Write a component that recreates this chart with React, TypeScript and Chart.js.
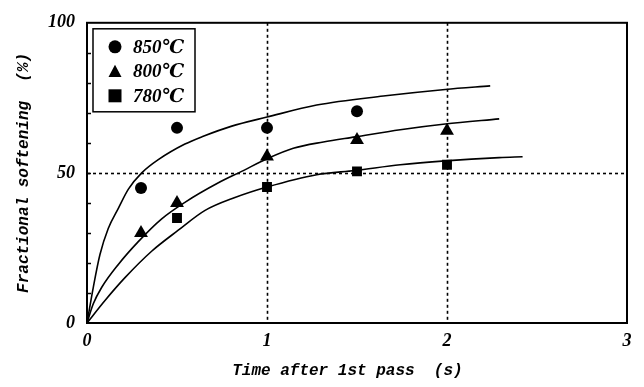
import React, { useEffect, useRef } from 'react';
import { Chart, registerables } from 'chart.js';

Chart.register(...registerables);

// Series labels & markers
const seriesLabels = ['850℃', '800℃', '780℃'];
const pointStyles = ['circle', 'triangle', 'rect'];
const pointRadii = [6, 8, 7];

// Measured points (time s, fractional softening %)
const t850 = [0.3, 0.5, 1.0, 1.5];
const s850 = [45, 65, 65, 70.5];
const t800 = [0.3, 0.5, 1.0, 1.5, 2.0];
const s800 = [30, 40, 55.5, 61, 64];
const t780 = [0.5, 1.0, 1.5, 2.0];
const s780 = [35, 45.3, 50.5, 52.7];

// Fitted curves
const fitT850 = [0, 0.035, 0.072, 0.118, 0.174, 0.23, 0.304, 0.396, 0.544, 0.646, 0.8, 1.0, 1.276, 1.646, 1.99, 2.24];
const fitS850 = [0, 11.9, 22.8, 31.5, 38.2, 44.6, 50, 54.4, 59.6, 62.2, 65.5, 68.6, 72.6, 75.6, 77.8, 79];
const fitT800 = [0, 0.035, 0.082, 0.174, 0.285, 0.415, 0.544, 0.73, 0.859, 1.0, 1.146, 1.313, 1.49, 1.74, 1.99, 2.29];
const fitS800 = [0, 6.4, 11.9, 19.5, 27.1, 34.7, 40.2, 46.7, 50.5, 54.7, 58.2, 60.3, 62, 64.4, 66.3, 68];
const fitT780 = [0, 0.1, 0.211, 0.359, 0.507, 0.656, 0.822, 1.0, 1.276, 1.49, 1.74, 1.99, 2.29, 2.42];
const fitS780 = [0, 7.5, 15.1, 23.9, 30.9, 37.5, 41.8, 45.3, 49.4, 50.8, 52.7, 54, 55.1, 55.4];

// Axes
const xTickValues = [0, 1, 2, 3];
const yTickValues = [0, 50, 100];
const yMinorTicks = [10, 20, 30, 40, 50, 60, 70, 80, 90];
const gridXValues = [1, 2];
const gridYValues = [50];
const xTitle = 'Time after 1st pass  (s)  ';
const yTitle = 'Fractional softening  (%)';

const zip = (xs: number[], ys: number[]) => xs.map((x, i) => ({ x, y: ys[i] }));

const tickFont = { family: '"Liberation Serif", "DejaVu Serif", serif', size: 18, style: 'italic' as const, weight: 'bold' as const };
const titleFont = { family: '"Liberation Mono", "DejaVu Sans Mono", monospace', size: 16, style: 'italic' as const, weight: 'bold' as const };

function drawMarker(ctx: CanvasRenderingContext2D, style: string, x: number, y: number, size: number) {
  ctx.beginPath();
  if (style === 'circle') {
    ctx.arc(x, y, size / 2, 0, Math.PI * 2);
  } else if (style === 'triangle') {
    const h = size * 0.87;
    ctx.moveTo(x, y - h / 2 - 1);
    ctx.lineTo(x + size / 2, y + h / 2);
    ctx.lineTo(x - size / 2, y + h / 2);
    ctx.closePath();
  } else {
    ctx.rect(x - size / 2, y - size / 2, size, size);
  }
  ctx.fill();
}

const framePlugin = {
  id: 'frameAndLegend',
  beforeDatasetsDraw(chart: any) {
    const { ctx, chartArea: a, scales } = chart;
    const xs = scales.x, ys = scales.y;
    ctx.save();
    ctx.strokeStyle = '#000';
    ctx.lineWidth = 1.6;
    ctx.setLineDash([3, 3]);
    gridXValues.forEach((v) => {
      const px = Math.round(xs.getPixelForValue(v)) + 0.5;
      ctx.beginPath();
      ctx.moveTo(px, a.top);
      ctx.lineTo(px, a.bottom);
      ctx.stroke();
    });
    gridYValues.forEach((v) => {
      const py = Math.round(ys.getPixelForValue(v)) + 0.5;
      ctx.beginPath();
      ctx.moveTo(a.left, py);
      ctx.lineTo(a.right, py);
      ctx.stroke();
    });
    ctx.restore();
  },
  afterDraw(chart: any) {
    const { ctx, chartArea: a, scales } = chart;
    const ys = scales.y;
    ctx.save();
    ctx.strokeStyle = '#000';
    ctx.lineWidth = 2;
    ctx.strokeRect(a.left, a.top, a.right - a.left, a.bottom - a.top);
    ctx.lineWidth = 1.5;
    yMinorTicks.forEach((v) => {
      const py = Math.round(ys.getPixelForValue(v)) + 0.5;
      ctx.beginPath();
      ctx.moveTo(a.left, py);
      ctx.lineTo(a.left + 4, py);
      ctx.stroke();
    });
    // Legend box
    const bx = a.left + 6, by = a.top + 6, bw = 102, bh = 83;
    ctx.fillStyle = '#fff';
    ctx.fillRect(bx, by, bw, bh);
    ctx.lineWidth = 1.5;
    ctx.strokeRect(bx, by, bw, bh);
    ctx.fillStyle = '#000';
    ctx.font = 'italic bold 19px "Liberation Serif", "DejaVu Serif", serif';
    ctx.textBaseline = 'middle';
    ctx.textAlign = 'left';
    seriesLabels.forEach((lab, i) => {
      const cy = by + 18 + i * 24.5;
      drawMarker(ctx, pointStyles[i], bx + 22, cy, 13);
      ctx.fillText(lab, bx + 40, cy + 1);
    });
    ctx.restore();
  },
};

export default function App() {
  const ref = useRef<HTMLCanvasElement | null>(null);
  useEffect(() => {
    if (!ref.current) return;
    const pts = [zip(t850, s850), zip(t800, s800), zip(t780, s780)];
    const fits = [zip(fitT850, fitS850), zip(fitT800, fitS800), zip(fitT780, fitS780)];
    const datasets: any[] = [];
    fits.forEach((f) => {
      datasets.push({
        data: f,
        showLine: true,
        pointRadius: 0,
        borderColor: '#000',
        borderWidth: 1.6,
        cubicInterpolationMode: 'monotone',
        fill: false,
      });
    });
    pts.forEach((p, i) => {
      datasets.push({
        label: seriesLabels[i],
        data: p,
        showLine: false,
        pointStyle: pointStyles[i],
        pointRadius: pointRadii[i],
        pointBackgroundColor: '#000',
        pointBorderColor: '#000',
        pointBorderWidth: 0,
      });
    });
    const chart = new Chart(ref.current, {
      type: 'scatter',
      data: { datasets },
      options: {
        animation: false,
        responsive: false,
        devicePixelRatio: 1,
        layout: { padding: { top: 17, right: 17, left: 0, bottom: 0 } },
        plugins: { legend: { display: false }, tooltip: { enabled: false } },
        scales: {
          x: {
            type: 'linear',
            min: 0,
            max: 3,
            afterBuildTicks: (s: any) => { s.ticks = xTickValues.map((v) => ({ value: v })); },
            afterFit: (s: any) => { s.height = 64; },
            grid: { display: false, drawTicks: false },
            border: { display: false },
            ticks: { color: '#000', font: tickFont, padding: 8, maxRotation: 0, callback: (v: any) => String(v) },
            title: { display: true, text: xTitle, color: '#000', font: titleFont, padding: { top: 0, bottom: 6 } },
          },
          y: {
            type: 'linear',
            min: 0,
            max: 100,
            afterBuildTicks: (s: any) => { s.ticks = yTickValues.map((v) => ({ value: v })); },
            afterFit: (s: any) => { s.width = 87; },
            grid: { display: false, drawTicks: false },
            border: { display: false },
            ticks: { color: '#000', font: tickFont, padding: 12, callback: (v: any) => String(v) },
            title: { display: true, text: yTitle, color: '#000', font: titleFont, padding: { top: 14, bottom: 0 } },
          },
        },
      },
      plugins: [framePlugin],
    });
    return () => chart.destroy();
  }, []);
  return (
    <div style={{ position: 'absolute', left: 0, top: 0, width: 644, height: 387, background: '#fff' }}>
      <canvas ref={ref} width={644} height={387} />
    </div>
  );
}
